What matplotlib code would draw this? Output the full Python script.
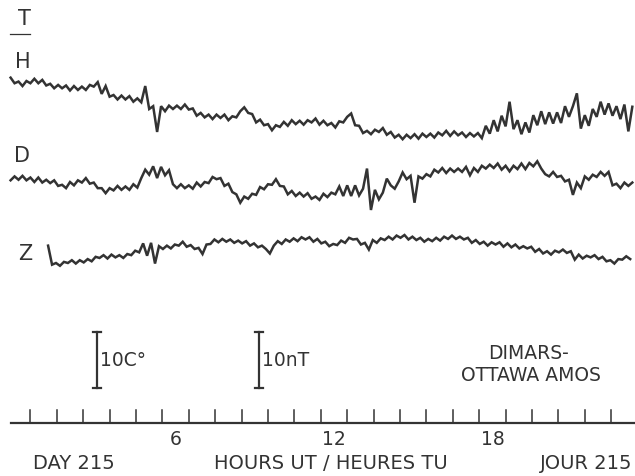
import numpy as np
import matplotlib.pyplot as plt

# Magnetogram DIMARS - Ottawa (AMOS), day 215, H / D / Z traces
# values, in nT relative to each trace baseline
t0_hd = 0.25      # first sample of H and D (hours UT)
t0_z = 1.67       # Z trace starts later
dt = 0.15         # sample spacing (hours)

h_vals = [5.6, 4.6, 4.9, 4.1, 5.0, 4.6, 5.4, 4.6, 5.2, 4.2,
          4.5, 3.7, 4.3, 3.7, 4.2, 3.3, 4.1, 3.4, 4.0, 3.4,
          4.3, 4.0, 4.8, 2.7, 4.1, 2.2, 2.5, 1.7, 2.4, 1.7,
          2.3, 1.3, 1.9, 1.2, 4.1, 0.0, 0.5, -4.1, 0.5, -0.4,
          0.6, 0.0, 0.6, 0.0, 0.8, -0.1, 0.1, -1.2, -0.7, -1.5,
          -1.0, -1.8, -1.0, -1.6, -1.0, -2.0, -1.3, -1.5, -0.4, 0.3,
          -0.7, -0.9, -2.4, -1.9, -2.9, -2.7, -3.8, -2.9, -3.2, -2.3,
          -3.0, -2.0, -2.7, -2.1, -2.8, -2.0, -2.4, -1.7, -2.8, -2.1,
          -2.9, -2.5, -3.3, -2.2, -2.4, -1.4, -0.8, -2.9, -3.0, -4.3,
          -3.9, -4.5, -3.7, -4.1, -3.4, -4.6, -4.1, -5.1, -4.6, -5.4,
          -4.6, -5.2, -4.5, -5.3, -4.4, -5.0, -4.4, -5.1, -4.2, -4.7,
          -3.9, -4.8, -4.0, -4.7, -4.2, -5.0, -4.3, -4.9, -4.3, -5.2,
          -3.0, -4.4, -2.0, -4.0, -1.2, -3.1, 1.3, -3.6, -2.0, -4.5,
          -2.4, -4.2, -1.1, -2.9, -0.4, -2.7, -0.6, -2.6, -0.6, -2.5,
          0.5, -1.4, 0.5, 2.8, -3.5, -1.1, -3.0, 0.0, -1.4, 1.3,
          -1.0, 1.0, -1.2, 0.5, -1.8, 0.8, -4.0, 0.4]

d_vals = [0.3, 1.0, 0.4, 1.1, 0.3, 0.8, 0.0, 0.8, -0.1, 0.4,
          -0.2, 0.3, -0.7, -0.5, -1.1, 0.0, -0.6, 0.3, -0.1, 0.7,
          -0.3, -0.1, -1.1, -1.1, -2.0, -1.1, -1.5, -0.7, -1.4, -0.8,
          -1.4, -0.4, -1.0, 0.7, 2.2, 1.3, 2.8, 0.7, 2.7, 1.2,
          2.1, -0.4, -1.1, -0.4, -1.1, -0.6, -1.2, -0.1, -0.8, 0.0,
          -0.2, 0.9, 0.5, 0.7, -0.7, -0.3, -1.8, -2.2, -3.7, -2.6,
          -3.0, -2.1, -2.3, -0.9, -1.3, -0.4, -0.5, 0.5, -0.7, -0.8,
          -2.2, -1.6, -2.5, -1.9, -2.6, -2.0, -3.0, -2.6, -3.2, -2.1,
          -2.7, -1.9, -2.2, -0.8, -2.5, -0.6, -2.5, -0.6, -2.4, -1.2,
          2.4, -5.0, -1.4, -3.1, -1.9, 0.6, -0.6, -1.2, 0.1, 1.7,
          0.5, 1.1, -3.7, 1.0, 0.6, 1.4, 1.0, 2.2, 1.7, 2.5,
          1.6, 2.4, 1.8, 2.4, 1.8, 2.7, 1.2, 2.5, 1.8, 2.9,
          2.4, 3.1, 2.5, 3.3, 2.2, 2.9, 1.9, 2.9, 2.3, 3.3,
          2.3, 3.4, 2.8, 3.7, 2.4, 1.4, 1.0, 1.8, 0.9, 1.1,
          0.1, 0.4, -2.3, -0.1, -1.1, 1.0, 0.4, 1.3, 0.9, 1.8,
          1.1, 1.8, -0.6, -0.3, -1.1, -0.1, -0.7, -0.1]

z_vals = [0.6, -2.8, -2.5, -3.0, -2.3, -2.5, -2.0, -2.6, -2.0, -2.4,
          -1.8, -2.2, -1.4, -1.6, -1.1, -1.7, -1.0, -1.5, -1.1, -1.6,
          -0.9, -1.1, -0.3, -0.6, 1.0, -1.2, 1.1, -2.6, 0.5, 0.0,
          0.6, 0.1, 0.8, 0.6, 1.3, 0.4, 0.7, 0.0, 0.2, -0.9,
          0.8, 0.9, 1.7, 1.2, 1.8, 1.3, 1.7, 1.1, 1.5, 1.0,
          1.4, 0.6, 1.0, 0.3, 0.6, 0.0, -0.8, 0.6, 1.4, 0.9,
          1.7, 1.3, 1.9, 1.4, 2.1, 1.7, 2.1, 1.3, 1.8, 1.0,
          1.3, 0.5, 0.9, 0.7, 1.5, 1.1, 2.0, 1.7, 1.8, 0.8,
          1.1, -0.1, 1.6, 1.1, 1.9, 1.6, 2.2, 1.7, 2.4, 2.0,
          2.5, 1.7, 2.2, 1.6, 2.0, 1.3, 1.8, 1.4, 2.0, 1.5,
          2.2, 1.8, 2.4, 1.8, 2.2, 1.7, 2.0, 1.1, 1.6, 0.9,
          1.3, 0.6, 1.2, 0.8, 1.2, 0.4, 1.0, 0.3, 0.8, 0.1,
          0.5, 0.1, 0.4, -0.5, 0.0, -0.8, -0.4, -1.0, -0.3, -0.6,
          -0.1, -0.7, -0.4, -1.9, -1.0, -1.7, -1.2, -1.5, -1.1, -1.8,
          -1.4, -2.2, -2.0, -2.6, -1.8, -1.9, -1.3, -1.8]

hour_ticks = list(range(1, 24))
hour_labels = {6: '6', 12: '12', 18: '18'}

# layout helpers (chart is drawn in pixel-like units, 635 x 477)
W, H = 635, 477
PX_HOUR = 26.4    # pixels per hour
NT_PX = 5.6       # pixels per nT
INK = '#333333'


def fx(px):
    return (px - 4) / PX_HOUR


def fy(px):
    return H - px


fig = plt.figure(figsize=(W / 100, H / 100), dpi=100)
ax = fig.add_axes([0, 0, 1, 1])
ax.set_xlim(fx(0), fx(W))
ax.set_ylim(0, H)
ax.axis('off')

# traces
t_hd = t0_hd + dt * np.arange(len(h_vals))
t_z = t0_z + dt * np.arange(len(z_vals))
base = {'H': 110, 'D': 183, 'Z': 250}
for key, tt, vv in [('H', t_hd, h_vals), ('D', t_hd, d_vals), ('Z', t_z, z_vals)]:
    ax.plot(tt, fy(base[key]) + NT_PX * np.array(vv), color=INK, lw=1.8,
            solid_joinstyle='miter')

# trace letters
ax.text(fx(24), fy(19), 'T', fontsize=15, color=INK, ha='center', va='center')
ax.plot([fx(10), fx(30)], [fy(35), fy(35)], color=INK, lw=0.9)
for lab, (px, py) in {'H': (23, 62), 'D': (22, 156), 'Z': (25, 254)}.items():
    ax.text(fx(px), fy(py), lab, fontsize=15, color=INK, ha='center', va='center')

# scale bars
for bx, lab in [(97, '10C°'), (259, '10nT')]:
    y0 = fy(389)
    y1 = y0 + 10 * NT_PX
    ax.plot([fx(bx), fx(bx)], [y0, y1], color=INK, lw=1.6)
    for yy in (y0, y1):
        ax.plot([fx(bx - 4), fx(bx + 4)], [yy, yy], color=INK, lw=1.6)
    ax.text(fx(bx + 3), (y0 + y1) / 2, lab, fontsize=13.5, color=INK,
            ha='left', va='center')

ax.text(fx(529), fy(354), 'DIMARS-', fontsize=13.5, color=INK, ha='center', va='center')
ax.text(fx(531), fy(376), 'OTTAWA AMOS', fontsize=13.5, color=INK, ha='center', va='center')

# hour axis
ax.plot([fx(11), fx(W)], [fy(424), fy(424)], color=INK, lw=1.6)
for h in hour_ticks:
    ax.plot([h, h], [fy(424), fy(411)], color=INK, lw=1.1)
for h, lab in hour_labels.items():
    ax.text(h + 0.5, fy(440), lab, fontsize=13.5, color=INK, ha='center', va='center')

ax.text(fx(33), fy(464), 'DAY 215', fontsize=14, color=INK, ha='left', va='center')
ax.text(fx(331), fy(464), 'HOURS UT / HEURES TU', fontsize=14, color=INK,
        ha='center', va='center')
ax.text(fx(632), fy(464), 'JOUR 215', fontsize=14, color=INK, ha='right', va='center')

fig.savefig('out.png', dpi=100, facecolor='white')
